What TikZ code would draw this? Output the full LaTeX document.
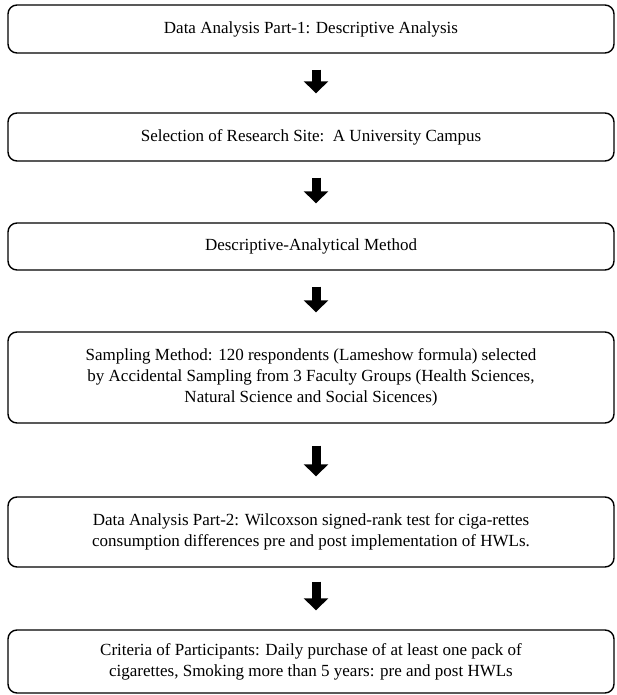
\documentclass[tikz,border=0pt]{standalone}
\usepackage{fontspec}
\setmainfont{Liberation Serif}
\usetikzlibrary{arrows.meta}

\begin{document}
\begin{tikzpicture}[
  x=0.5pt, y=-0.5pt,
  box/.style={draw, line width=0.7pt, rounded corners=4.5pt, minimum width=303pt, align=center, font=\fontsize{8.5}{10.5}\selectfont},
  arrow/.style={-{Triangle[width=12pt,length=6pt]}, line width=4.5pt, shorten <=8pt, shorten >=9.5pt}
]
  \useasboundingbox (0,0) rectangle (616,695);

  % Boxes
  \node[box, minimum height=24pt] (part1) at (311, 29) {Data Analysis Part-1: Descriptive Analysis};
  \node[box, minimum height=24pt] (site) at (311, 137) {Selection of Research Site:\ \ A University Campus};
  \node[box, minimum height=23.5pt] (method) at (311, 246.5) {Descriptive-Analytical Method};
  \node[box, minimum height=45.5pt] (sampling) at (311, 377.5) {Sampling Method: 120 respondents (Lameshow formula) selected\\by Accidental Sampling from 3 Faculty Groups (Health Sciences,\\Natural Science and Social Sicences)};
  \node[box, minimum height=35pt] (part2) at (311, 532) {Data Analysis Part-2: Wilcoxson signed-rank test for ciga-rettes\\consumption differences pre and post implementation of HWLs.};
  \node[box, minimum height=31.5pt] (criteria) at (311, 661.5) {Criteria of Participants: Daily purchase of at least one pack of\\cigarettes, Smoking more than 5 years: pre and post HWLs};

  % Arrows
  \draw[arrow] ([xshift=2.5pt]part1.south) -- ([xshift=2.5pt]site.north);
  \draw[arrow] ([xshift=2.5pt]site.south) -- ([xshift=2.5pt]method.north);
  \draw[arrow] ([xshift=2.5pt]method.south) -- ([xshift=2.5pt]sampling.north);
  \draw[arrow, shorten <=11pt, shorten >=10pt] ([xshift=2.5pt]sampling.south) -- ([xshift=2.5pt]part2.north);
  \draw[arrow, shorten <=7pt] ([xshift=2.5pt]part2.south) -- ([xshift=2.5pt]criteria.north);
\end{tikzpicture}
\end{document}
